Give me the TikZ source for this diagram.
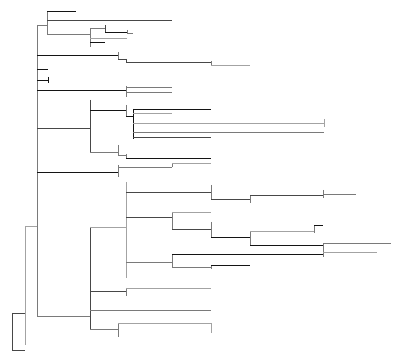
\documentclass[tikz,border=0pt]{standalone}
\begin{document}
\begin{tikzpicture}[x=1pt,y=-1pt,
  every path/.style={line width=0.9pt},
  k/.style={draw=black!92},
  d/.style={draw=black!72},
  g/.style={draw=black!52},
  l/.style={draw=black!36}]
\useasboundingbox (0,0) rectangle (400,361);
% top clade
\draw[g] (37,25) -- (37,316);
\draw[g] (37,25) -- (47,25);
\draw[g] (47,11) -- (47,34);
\draw[k] (47,11) -- (76,11);
\draw[d] (47,20) -- (172,20);
\draw[g] (47,34) -- (90,34);
\draw[g] (90,28) -- (90,47);
\draw[g] (90,28) -- (105,28);
\draw[l] (90,38) -- (127,38);
\draw[k] (90,42) -- (105,42);
\draw[d] (105,25) -- (105,32);
\draw[k] (105,32) -- (127,32);
\draw[g] (127,30) -- (127,34);
\draw[g] (127,33) -- (133,33);
% y=55
\draw[k] (37,55) -- (118,55);
\draw[g] (118,52) -- (118,59);
\draw[d] (118,59) -- (126,59);
\draw[d] (126,59) -- (126,63);
\draw[d] (126,62) -- (211,62);
\draw[g] (211,61) -- (211,66);
\draw[l] (211,65) -- (250,65);
% short ones
\draw[k] (37,69) -- (48,69);
\draw[k] (37,80) -- (48,80);
\draw[k] (48,77) -- (48,83);
% y=90
\draw[k] (37,90) -- (126,90);
\draw[g] (126,86) -- (126,97);
\draw[g] (126,87) -- (172,87);
\draw[g] (126,92) -- (172,92);
% y=128 clade
\draw[d] (37,128) -- (90,128);
\draw[d] (90,100) -- (90,152);
\draw[k] (90,110) -- (126,110);
\draw[g] (126,105) -- (126,116);
\draw[k] (126,116) -- (133,116);
\draw[k] (133,109) -- (133,139);
\draw[k] (133,109) -- (211,109);
\draw[l] (133,113) -- (172,113);
\draw[l] (133,123) -- (324,123);
\draw[l] (324,119) -- (324,127);
\draw[g] (133,132) -- (324,132);
\draw[d] (133,137) -- (211,137);
\draw[g] (90,152) -- (118,152);
\draw[g] (118,145) -- (118,155);
\draw[g] (118,155) -- (126,155);
\draw[g] (126,154) -- (126,158);
\draw[k] (126,158) -- (211,158);
% y=172
\draw[k] (37,172) -- (118,172);
\draw[g] (118,165) -- (118,177);
\draw[g] (118,167) -- (172,167);
\draw[g] (172,163) -- (172,167);
\draw[l] (172,163) -- (211,163);
% root part
\draw[l] (25,226) -- (37,226);
\draw[l] (25,226) -- (25,345);
\draw[d] (12,313) -- (12,350);
\draw[d] (12,313) -- (25,313);
\draw[d] (12,350) -- (25,350);
% lower clade
\draw[g] (37,316) -- (90,316);
\draw[d] (90,227) -- (90,330);
\draw[l] (90,227) -- (126,227);
\draw[l] (126,182) -- (126,278);
\draw[d] (126,192) -- (211,192);
\draw[g] (211,185) -- (211,199);
\draw[d] (211,199) -- (250,199);
\draw[g] (250,195) -- (250,203);
\draw[d] (250,195) -- (323,195);
\draw[g] (323,190) -- (323,198);
\draw[g] (323,194) -- (356,194);
\draw[d] (126,217) -- (172,217);
\draw[g] (172,212) -- (172,229);
\draw[l] (172,212) -- (211,212);
\draw[d] (172,229) -- (211,229);
\draw[g] (211,222) -- (211,237);
\draw[k] (211,237) -- (250,237);
\draw[g] (250,231) -- (250,245);
\draw[l] (250,231) -- (314,231);
\draw[g] (314,225) -- (314,233);
\draw[k] (314,225) -- (323,225);
\draw[k] (250,245) -- (323,245);
\draw[g] (323,243) -- (323,253);
\draw[g] (323,243) -- (391,243);
\draw[g] (126,262) -- (172,262);
\draw[g] (172,254) -- (172,268);
\draw[k] (172,254) -- (323,254);
\draw[g] (323,252) -- (323,257);
\draw[l] (323,252) -- (377,252);
\draw[g] (172,267) -- (211,267);
\draw[g] (211,265) -- (211,269);
\draw[k] (211,265) -- (250,265);
\draw[d] (90,291) -- (126,291);
\draw[g] (126,288) -- (126,296);
\draw[l] (126,288) -- (211,288);
\draw[g] (90,310) -- (211,310);
\draw[g] (90,329) -- (118,329);
\draw[g] (118,323) -- (118,337);
\draw[l] (118,323) -- (211,323);
\draw[l] (211,323) -- (211,333);
\end{tikzpicture}
\end{document}
